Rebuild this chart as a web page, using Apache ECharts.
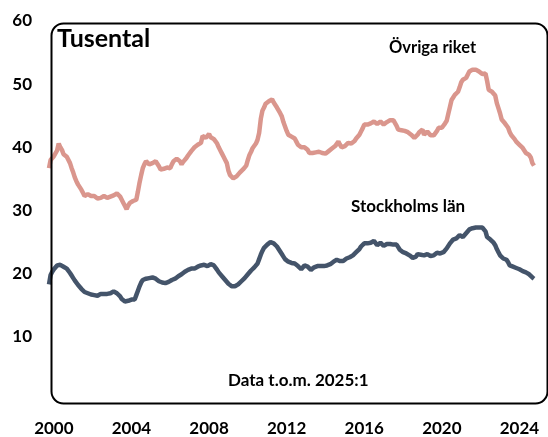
<!DOCTYPE html>
<html>
<head>
<meta charset="utf-8">
<script src="https://cdn.jsdelivr.net/npm/echarts@6/dist/echarts.min.js"></script>
<style>
  html, body { margin: 0; padding: 0; background: #fff; }
  #chart { width: 548px; height: 437px; }
</style>
</head>
<body>
<div id="chart"></div>
<script>
// Tusental, monthly 2000:1 - 2025:1
const ovrigaRiket = [
  36.7, 38.0, 38.3, 38.6, 38.8, 39.5, 40.6, 40.0, 39.6, 38.9, 38.7, 38.5,
  38.3, 37.5, 36.7, 36.0, 35.2, 34.6, 34.1, 33.7, 33.3, 32.8, 32.3, 32.5,
  32.6, 32.5, 32.3, 32.2, 32.3, 32.0, 31.9, 31.8, 32.0, 32.3, 32.3, 32.2,
  32.0, 32.0, 32.2, 32.4, 32.4, 32.5, 32.7, 32.7, 32.2, 31.7, 31.2, 30.7,
  30.2, 30.8, 31.2, 31.4, 31.5, 31.5, 31.7, 33.0, 34.4, 35.6, 36.7, 37.3,
  37.8, 37.5, 37.3, 37.4, 37.5, 37.6, 37.8, 37.4, 37.0, 36.5, 36.5, 36.6,
  36.5, 36.8, 36.9, 36.7, 37.3, 37.8, 38.0, 38.2, 38.3, 37.8, 37.3, 37.7,
  38.0, 38.3, 38.7, 39.0, 39.4, 39.7, 40.0, 40.3, 40.4, 40.6, 40.7, 41.8,
  41.6, 41.5, 41.8, 42.1, 41.6, 41.5, 41.3, 41.2, 40.6, 40.0, 39.5, 39.0,
  38.5, 38.0, 37.5, 36.3, 35.6, 35.3, 35.1, 35.2, 35.4, 35.7, 36.0, 36.2,
  36.5, 36.8, 37.1, 38.0, 38.8, 39.3, 39.9, 40.2, 40.6, 41.2, 42.3, 44.5,
  45.8, 46.3, 46.9, 47.2, 47.3, 47.4, 47.6, 47.1, 46.7, 46.3, 46.0, 45.4,
  44.9, 44.0, 43.3, 42.6, 42.0, 41.8, 41.7, 41.5, 41.4, 40.9, 40.4, 40.2,
  40.0, 39.9, 40.0, 40.2, 39.6, 39.1, 39.0, 39.1, 39.0, 39.2, 39.4, 39.3,
  39.2, 39.1, 39.0, 39.0, 39.2, 39.4, 39.6, 39.8, 40.0, 40.2, 40.5, 40.9,
  40.4, 40.0, 39.9, 40.2, 40.5, 40.7, 40.6, 40.6, 40.6, 41.0, 41.4, 41.7,
  42.0, 42.5, 43.0, 43.6, 43.6, 43.6, 43.7, 43.8, 43.8, 44.1, 43.9, 43.7,
  43.9, 44.1, 43.9, 43.6, 43.8, 44.0, 44.1, 44.3, 44.5, 44.3, 44.0, 43.4,
  42.8, 42.8, 42.7, 42.7, 42.6, 42.5, 42.4, 42.2, 42.0, 41.7, 41.5, 41.3,
  42.0, 42.4, 42.6, 42.8, 42.0, 42.3, 42.5, 42.2, 41.9, 41.8, 41.9, 42.0,
  42.6, 43.1, 43.1, 43.1, 43.4, 43.8, 44.2, 45.3, 46.4, 47.5, 47.9, 48.3,
  48.5, 48.8, 49.5, 50.3, 50.7, 50.9, 51.0, 51.5, 52.0, 52.1, 52.3, 52.4,
  52.3, 52.1, 52.0, 51.8, 51.6, 51.5, 51.7, 50.5, 49.1, 49.0, 48.8, 48.5,
  48.2, 47.0, 46.2, 45.4, 44.4, 44.1, 43.8, 43.5, 43.1, 42.4, 41.9, 41.6,
  41.3, 40.9, 40.6, 40.4, 40.2, 39.9, 39.5, 39.1, 39.0, 38.8, 38.4, 37.5,
  37.1
]

const stockholmsLan = [
  18.3, 19.8, 20.3, 20.7, 21.0, 21.3, 21.6, 21.4, 21.3, 21.1, 21.0, 20.8,
  20.5, 20.1, 19.7, 19.3, 18.9, 18.6, 18.2, 17.9, 17.6, 17.3, 17.1, 17.0,
  16.9, 16.8, 16.7, 16.6, 16.6, 16.5, 16.5, 16.6, 16.8, 16.8, 16.8, 16.8,
  16.8, 16.8, 16.9, 17.0, 17.2, 17.1, 16.9, 16.7, 16.4, 16.0, 15.8, 15.6,
  15.5, 15.7, 15.8, 15.9, 15.9, 15.9, 16.6, 17.3, 18.0, 18.6, 19.0, 19.1,
  19.2, 19.3, 19.3, 19.4, 19.4, 19.3, 19.2, 19.0, 18.8, 18.7, 18.6, 18.6,
  18.5, 18.6, 18.7, 18.8, 19.0, 19.2, 19.2, 19.5, 19.6, 19.7, 19.9, 20.1,
  20.3, 20.5, 20.6, 20.8, 20.8, 20.8, 20.8, 21.0, 21.1, 21.2, 21.3, 21.5,
  21.4, 21.3, 21.2, 21.4, 21.5, 21.5, 21.3, 21.0, 20.6, 20.2, 19.9, 19.6,
  19.3, 19.0, 18.7, 18.4, 18.1, 18.0, 17.8, 18.0, 18.2, 18.3, 18.5, 18.8,
  19.0, 19.3, 19.6, 19.9, 20.2, 20.5, 20.7, 21.0, 21.2, 21.6, 22.3, 23.0,
  23.6, 24.1, 24.4, 24.6, 24.8, 25.0, 25.0, 24.8, 24.6, 24.3, 23.9, 23.5,
  23.1, 22.7, 22.3, 22.0, 21.9, 21.8, 21.7, 21.6, 21.6, 21.4, 21.2, 20.9,
  20.7, 21.0, 21.3, 21.2, 21.1, 20.8, 20.6, 20.8, 21.0, 21.1, 21.2, 21.2,
  21.2, 21.2, 21.2, 21.2, 21.3, 21.3, 21.5, 21.7, 21.9, 22.0, 22.2, 22.2,
  22.0, 21.8, 22.0, 22.2, 22.4, 22.5, 22.6, 22.8, 22.9, 23.1, 23.4, 23.6,
  23.9, 24.3, 24.6, 24.8, 24.8, 24.8, 24.8, 24.9, 25.1, 25.2, 24.9, 24.5,
  24.7, 24.9, 24.7, 24.4, 24.5, 24.7, 24.8, 24.7, 24.6, 24.6, 24.6, 24.6,
  24.2, 23.8, 23.6, 23.4, 23.3, 23.2, 23.0, 22.9, 22.7, 22.5, 22.4, 22.7,
  23.1, 23.1, 23.0, 22.9, 22.9, 23.0, 23.1, 23.0, 22.8, 22.7, 22.9, 23.1,
  23.3, 23.3, 23.2, 23.2, 23.4, 23.7, 24.0, 24.4, 24.8, 25.1, 25.4, 25.5,
  25.6, 25.8, 26.1, 25.9, 25.8, 26.0, 26.4, 26.6, 27.0, 27.1, 27.2, 27.3,
  27.3, 27.3, 27.3, 27.3, 27.3, 27.4, 26.7, 25.8, 25.6, 25.4, 25.2, 24.9,
  24.5, 23.9, 23.4, 22.9, 22.6, 22.4, 22.3, 22.2, 21.8, 21.3, 21.2, 21.1,
  21.1, 20.9, 20.8, 20.7, 20.5, 20.4, 20.3, 20.2, 20.1, 19.9, 19.6, 19.4,
  19.2
]

const tickYears = ['2000', '2004', '2008', '2012', '2016', '2020', '2024']
const yTicks = [10, 20, 30, 40, 50, 60]

// month categories "2000:1" ... "2025:1"
const months = []
for (let y = 2000; y <= 2025; y++) {
  for (let m = 1; m <= 12; m++) {
    if (y === 2025 && m > 1) break
    months.push(y + ':' + m)
  }
}

const font = 'Lato, "Open Sans", sans-serif'

const chart = echarts.init(document.getElementById('chart'))
chart.setOption({
  animation: false,
  grid: { left: 49, right: 14, top: 21, bottom: 36 },
  xAxis: {
    type: 'category',
    data: months,
    boundaryGap: false,
    axisLine: { show: false },
    axisTick: { show: false },
    axisLabel: {
      interval: function (index, value) {
        const parts = value.split(':')
        return parts[1] === '4' && tickYears.indexOf(parts[0]) >= 0
      },
      formatter: function (value) { return value.split(':')[0] },
      color: '#000',
      fontFamily: font,
      fontWeight: 'bold',
      fontSize: 17,
      margin: 20
    }
  },
  yAxis: {
    type: 'value',
    min: 0,
    max: 60,
    interval: 10,
    axisLine: { show: false },
    axisTick: { show: false },
    splitLine: { show: false },
    axisLabel: {
      formatter: function (v) { return yTicks.indexOf(v) >= 0 ? String(v) : '' },
      color: '#000',
      fontFamily: font,
      fontWeight: 'bold',
      fontSize: 17,
      margin: 17
    }
  },
  graphic: [
    {
      type: 'rect',
      left: 49, top: 21,
      shape: { width: 496, height: 380, r: 12 },
      style: { fill: 'none', stroke: '#000', lineWidth: 2 },
      z: 10
    },
    {
      type: 'text', left: 57, top: 26,
      style: { text: 'Tusental', font: 'bold 25px ' + font, fill: '#000' }
    },
    {
      type: 'text', left: 389, top: 39,
      style: { text: 'Övriga riket', font: 'bold 16.5px ' + font, fill: '#000' }
    },
    {
      type: 'text', left: 351, top: 198,
      style: { text: 'Stockholms län', font: 'bold 17px ' + font, fill: '#000' }
    },
    {
      type: 'text', left: 228, top: 372,
      style: { text: 'Data t.o.m. 2025:1', font: 'bold 17px ' + font, fill: '#000' }
    }
  ],
  series: [
    {
      name: 'Övriga riket',
      type: 'line',
      data: ovrigaRiket,
      showSymbol: false,
      lineStyle: { color: '#DA968D', width: 4.5 },
      itemStyle: { color: '#DA968D' }
    },
    {
      name: 'Stockholms län',
      type: 'line',
      data: stockholmsLan,
      showSymbol: false,
      lineStyle: { color: '#44546A', width: 4.5 },
      itemStyle: { color: '#44546A' }
    }
  ]
})
</script>
</body>
</html>
